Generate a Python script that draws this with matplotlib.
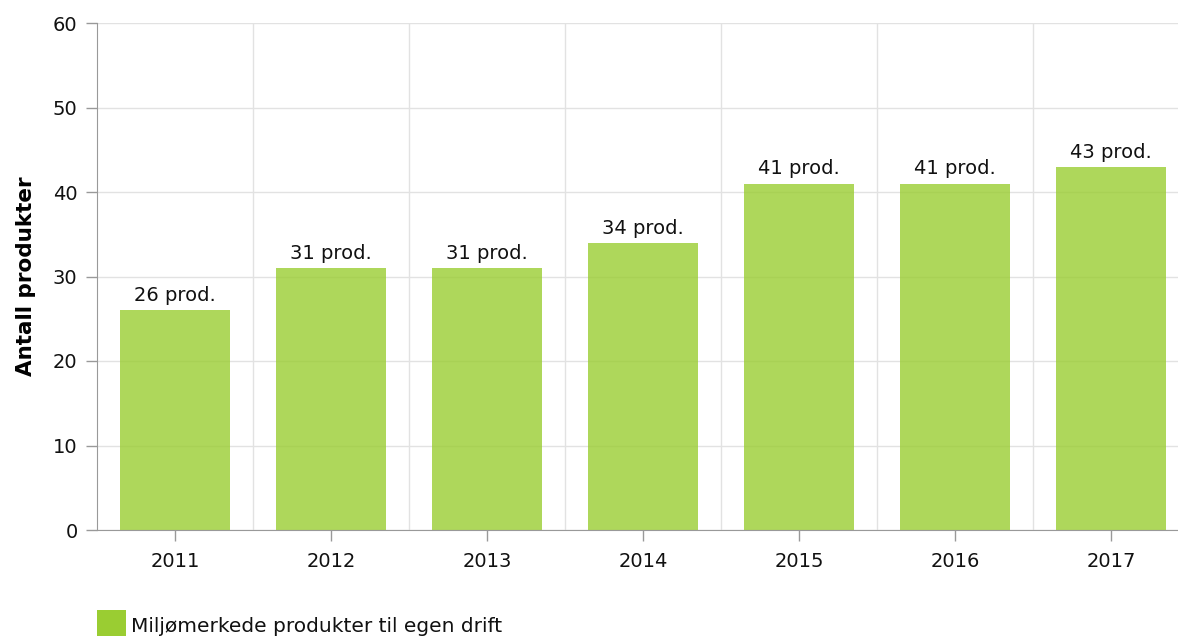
import matplotlib.pyplot as plt
from matplotlib.patches import Rectangle

years = ["2011", "2012", "2013", "2014", "2015", "2016", "2017"]
antall = [26, 31, 31, 34, 41, 41, 43]
etiketter = [f"{v} prod." for v in antall]
serie_navn = "Miljømerkede produkter til egen drift"

plt.rcParams['font.family'] = ['DejaVu Sans']
W, H = 1178, 636

fig = plt.figure(figsize=(W / 100, H / 100), dpi=100)
# axes spans slightly past the right edge like the original crop
ax = fig.add_axes([97 / W, 1 - 530 / H, 1092 / W, 507 / H])

x = list(range(len(years)))
bars = ax.bar(x, antall, width=0.7, color='#9acd32', alpha=0.8, zorder=2)

for rect, txt in zip(bars, etiketter):
    ax.text(rect.get_x() + rect.get_width() / 2, rect.get_height() + 0.6, txt,
            ha='center', va='bottom', fontsize=14, color='#111111')

ax.set_xlim(-0.5, len(years) - 0.5)
ax.set_ylim(0, 60)
ax.set_yticks(range(0, 61, 10))
ax.set_xticks(x)
ax.set_xticklabels(years)

# vertical grid at category boundaries
ax.set_xticks([i + 0.5 for i in x[:-1]], minor=True)
ax.grid(True, which='minor', axis='x', color='#e2e2e2', lw=1, zorder=0)
ax.grid(True, which='major', axis='y', color='#e2e2e2', lw=1, zorder=0)
ax.tick_params(axis='x', which='minor', length=0)
ax.tick_params(axis='both', which='major', labelsize=14, colors='#999999',
               labelcolor='#111111', length=8, width=1)
ax.tick_params(axis='x', pad=8)
ax.tick_params(axis='y', pad=6)

for side in ['top', 'right']:
    ax.spines[side].set_visible(False)
for side in ['left', 'bottom']:
    ax.spines[side].set_color('#999999')

ax.set_ylabel('Antall produkter', fontsize=15.5, fontweight='bold', labelpad=12)

# legend swatch + label, cut by the bottom edge like the reference
fig.patches.append(Rectangle((97 / W, -0.01), 29 / W, 26 / H + 0.01,
                             transform=fig.transFigure, facecolor='#9acd32',
                             edgecolor='none'))
fig.text(131 / W, 1 - 632 / H, serie_navn, fontsize=14.5, color='#111111',
         ha='left', va='baseline')

fig.savefig('out.png', dpi=100)
